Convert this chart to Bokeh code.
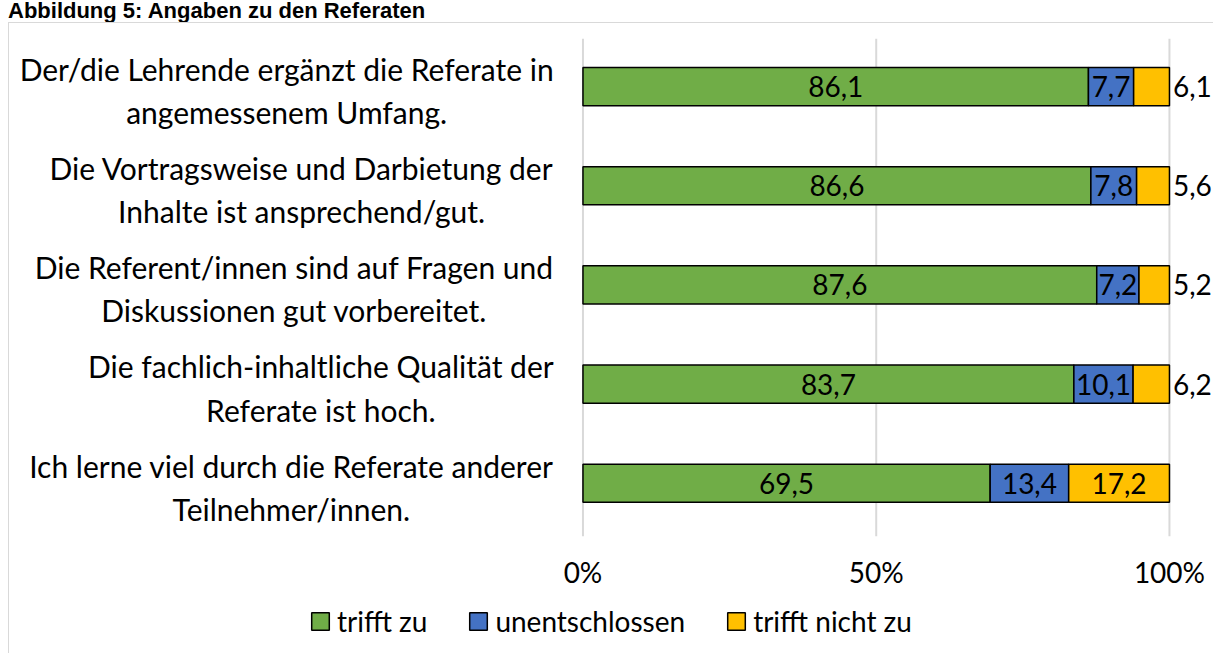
from bokeh.plotting import figure
from bokeh.models import Range1d, Legend, LegendItem, ColumnDataSource, Div
from bokeh.layouts import column
from bokeh.core.properties import value
from bokeh.embed import file_html
from bokeh.resources import INLINE

title_text = "Abbildung 5: Angaben zu den Referaten"
categories = [
    "Der/die Lehrende ergänzt die Referate in\nangemessenem Umfang.",
    "Die Vortragsweise und Darbietung der\nInhalte ist ansprechend/gut.",
    "Die Referent/innen sind auf Fragen und\nDiskussionen gut vorbereitet.",
    "Die fachlich-inhaltliche Qualität der\nReferate ist hoch.",
    "Ich lerne viel durch die Referate anderer\nTeilnehmer/innen.",
]
series_names = ["trifft zu", "unentschlossen", "trifft nicht zu"]
trifft_zu = [86.1, 86.6, 87.6, 83.7, 69.5]
unentschlossen = [7.7, 7.8, 7.2, 10.1, 13.4]
trifft_nicht_zu = [6.1, 5.6, 5.2, 6.2, 17.2]
tick_values = [0, 50, 100]
tick_labels = ["0%", "50%", "100%"]

colors = ["#70AD47", "#4472C4", "#FFC000"]
FONT = "Lato"
FS_CAT = "30px"
FS = "28px"

n = len(categories)
ypos = [n - 1 - i for i in range(n)]
series = [trifft_zu, unentschlossen, trifft_nicht_zu]
totals = [sum(s[i] for s in series) for i in range(n)]

# category band limits (plot area), and the full frame which also holds axis labels + legend
band_lo, band_hi = -0.535, n - 1 + 0.485
p = figure(frame_width=1203, frame_height=615, output_backend="svg", toolbar_location=None,
           x_range=Range1d(-97.61, 107.68), y_range=Range1d(band_hi - 615 / 99.0, band_hi),
           min_border_left=1, min_border_right=0, min_border_top=15, min_border_bottom=0,
           margin=(0, 0, 0, 8),
           styles={"border-top": "1px solid #d9d9d9", "border-left": "1px solid #d9d9d9"})
p.outline_line_color = None
p.xaxis.visible = False
p.yaxis.visible = False
p.xgrid.grid_line_color = None
p.ygrid.grid_line_color = None

# vertical gridlines at the tick values, spanning the category band
p.segment(x0=tick_values, x1=tick_values, y0=[band_lo] * len(tick_values),
          y1=[band_hi] * len(tick_values), line_color="#d9d9d9", line_width=2)
# tick labels
p.text(x=tick_values, y=[band_lo] * len(tick_values), text=tick_labels, y_offset=36,
       text_align="center", text_baseline="middle", text_font=value(FONT),
       text_font_size=FS, text_color="black")

items = []
left = [0.0] * n
for k, s in enumerate(series):
    shares = [s[i] / totals[i] * 100 for i in range(n)]
    right = [left[i] + shares[i] for i in range(n)]
    src = ColumnDataSource(dict(y=ypos, left=left, right=right))
    r = p.hbar(y="y", left="left", right="right", height=0.385, source=src,
               fill_color=colors[k], line_color="black", line_width=1.5)
    items.append(LegendItem(label=series_names[k], renderers=[r]))
    lx, ly, lt, la = [], [], [], []
    for i in range(n):
        txt = f"{s[i]:.1f}".replace(".", ",")
        if k == 2 and s[i] < 10:
            lx.append(right[i] + 0.6); la.append("left")
        else:
            lx.append((left[i] + right[i]) / 2); la.append("center")
        ly.append(ypos[i]); lt.append(txt)
    p.text(x=lx, y=ly, text=lt, text_align=la, text_baseline="middle",
           text_font=value(FONT), text_font_size=FS, text_color="black")
    left = right

p.text(x=[-5] * n, y=[v - 0.04 for v in ypos], text=categories, anchor="center_right",
       text_align="center", text_baseline="middle", text_font=value(FONT),
       text_font_size=FS_CAT, text_line_height=1.2, text_color="black")

legend = Legend(items=items, orientation="horizontal", location=(299, 16),
                label_text_font=FONT, label_text_font_size=FS, label_text_color="black",
                glyph_width=22, glyph_height=22,
                spacing=40, label_standoff=6, border_line_color=None,
                background_fill_alpha=0, padding=0, margin=0)
p.add_layout(legend, "center")

title = Div(text=title_text, height=22, margin=(0, 0, 0, 8),
            styles={"font-family": "Liberation Sans", "font-weight": "bold",
                    "font-size": "22px", "line-height": "22px", "color": "black",
                    "white-space": "nowrap"})

layout = column(title, p, spacing=0)
open("out.html", "w").write(file_html(layout, INLINE))
